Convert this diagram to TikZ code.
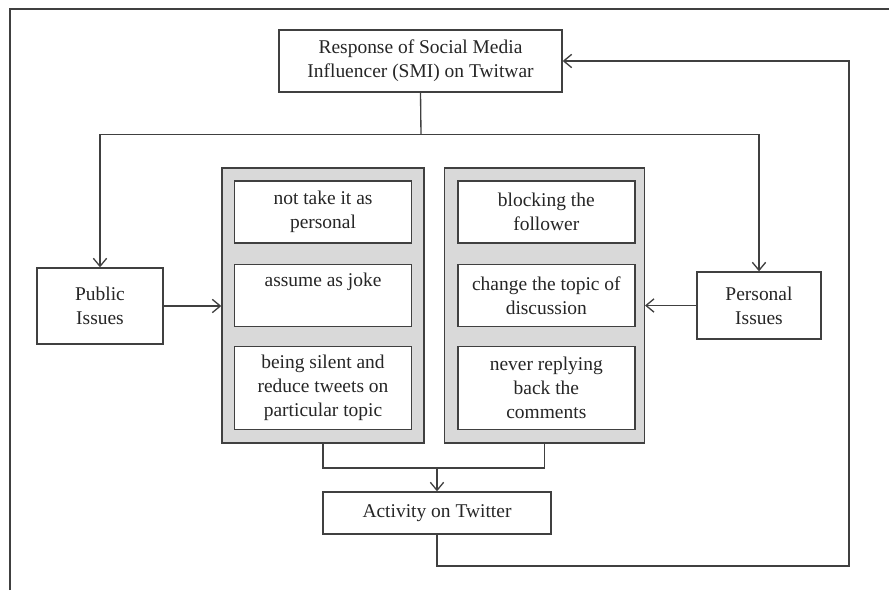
\documentclass[tikz,border=0pt]{standalone}
\usepackage{fontspec}
\setmainfont{Liberation Serif}
\usetikzlibrary{positioning, arrows.meta}
\definecolor{linegray}{HTML}{404040}
\definecolor{panelgray}{HTML}{D9D9D9}
\definecolor{textgray}{HTML}{262626}

\begin{document}
\begin{tikzpicture}[x=0.75pt, y=-0.75pt, draw=linegray, line width=1pt, text=textgray,
		font=\fontsize{14.6}{18}\selectfont,
		box/.style={draw, rectangle, fill=white, align=center, inner sep=2pt},
		panel/.style={draw, rectangle, fill=panelgray, minimum width=151.5pt, minimum height=206.25pt},
		item/.style={box, minimum width=132.75pt, minimum height=46.5pt},
		link/.style={-{Straight Barb[length=6pt, width=10pt]}}]
		\useasboundingbox (0,0) rectangle (889,590);
		%frame
		\draw[line width=1.2pt] (10,590) -- (10,9) -- (889,9);
		%diagram
		\node[box, minimum width=212.25pt, minimum height=46.5pt] (smi) at (420.5,61) {Response of Social Media\\Influencer (SMI) on Twitwar};
		\node[box, minimum width=94.5pt, minimum height=57pt] (public) at (100,306) {Public\\Issues};
		\node[box, minimum width=93pt, minimum height=50.25pt] (personal) at (759,305.5) {Personal\\Issues};
		\node[panel] (lpanel) at (323,305.5) {};
		\node[panel, minimum width=150pt, right=14.25pt of lpanel] (rpanel) {};
		\node[item, below=9.75pt of lpanel.north] (l1) {not take it as\\personal};
		\node[item, below=15pt of l1] (l2) {assume as joke\\\strut};
		\node[item, minimum height=62.25pt, below=14.25pt of l2] (l3) {being silent and\\reduce tweets on\\particular topic};
		\node[item, right=33.75pt of l1] (r1) {blocking the\\follower};
		\node[item, right=33.75pt of l2] (r2) {change the topic of\\discussion};
		\node[item, minimum height=62.25pt, right=33.75pt of l3] (r3) {never replying\\back the\\comments};
		\node[box, minimum width=171pt, minimum height=31.5pt] (activity) at (437,513) {Activity on Twitter};
		%connectors
		\coordinate (split) at (421,134.5);
		\coordinate (join) at (437,468);
		\coordinate (loop) at (849,566);
		\draw (smi.south) -- (split);
		\draw[link] (split) -| (public.north);
		\draw[link] (split) -| (personal.north);
		\draw[link] (public.east) -- (public.east -| lpanel.west);
		\draw[link] (personal.west) -- (personal.west -| rpanel.east);
		\draw (lpanel.south) |- (join) -| (rpanel.south);
		\draw[link] (join) -- (activity.north);
		\draw[link] (activity.south) |- (loop) |- (smi.east);
\end{tikzpicture}
\end{document}
